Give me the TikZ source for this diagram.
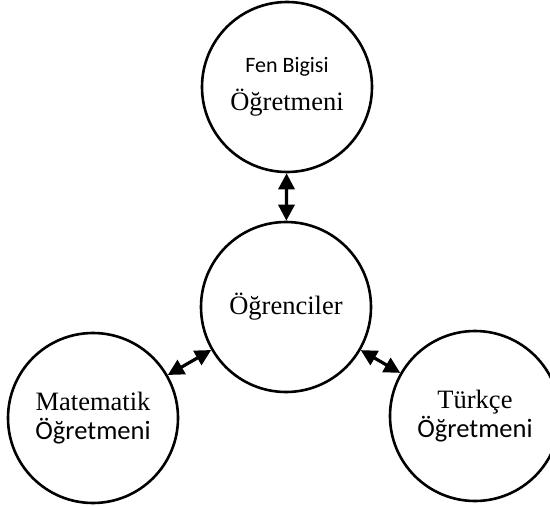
\documentclass[tikz,border=0pt]{standalone}
\usepackage{fontspec}
\setmainfont{Liberation Serif}
\newfontfamily\calibri{Carlito}
\usetikzlibrary{arrows.meta,positioning}

\begin{document}
\begin{tikzpicture}[x=1pt, y=-1pt,
  role/.style={circle, draw, line width=2.6pt, minimum size=170pt,
               inner sep=0pt, align=center, font=\fontsize{26.5}{29.5}\selectfont},
  link/.style={{Triangle[length=16pt,width=16pt]}-{Triangle[length=16pt,width=16pt]},
               line width=3.2pt}
]
\useasboundingbox (0,0) rectangle (550,506);
\node[role] (fen)  at (287,87)  {{\calibri\fontsize{22}{26}\selectfont Fen Bigisi}\\[9pt]Öğretmeni};
\node[role] (ogr)  at (286,307) {Öğrenciler};
\node[role] (mat)  at (93,418)  {Matematik\\{\calibri Öğretmeni}};
\node[role] (tur)  at (475,416) {Türkçe\\{\calibri Öğretmeni}};

\draw[link] (fen) -- (ogr);
\draw[link] (mat) -- (ogr);
\draw[link] (ogr) -- (tur);
\end{tikzpicture}
\end{document}
